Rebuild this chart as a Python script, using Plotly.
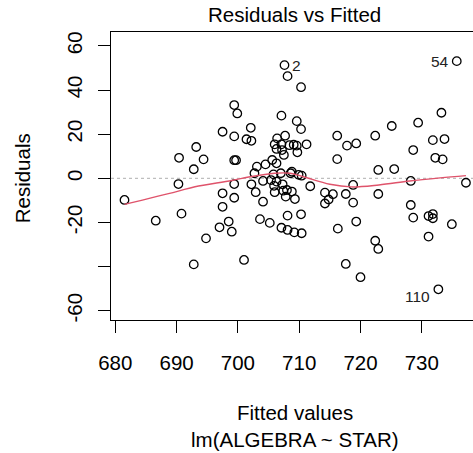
import plotly.graph_objects as go

# Fitted values and residuals
fitted = [681.5, 686.6, 690.3, 690.4, 690.8, 692.8, 692.8, 693.2, 694.4, 694.8,
          697.5, 697.5, 697.5, 697.0, 698.5, 699.0, 699.4, 699.9, 699.4, 699.4,
          699.7, 699.4, 699.4, 701.0, 701.4, 702.2, 702.1, 702.2, 702.7, 703.1,
          702.9, 703.6, 704.1, 704.1, 704.5, 705.2, 705.4, 705.6, 705.8, 705.9,
          706.0, 706.0, 706.3, 706.3, 706.3, 706.4, 707.1, 707.1, 707.2, 707.0,
          707.3, 707.4, 707.5, 707.6, 707.7, 707.8, 708.1, 708.1, 707.1, 708.1,
          708.4, 708.6, 708.8, 708.0, 708.8, 709.1, 709.6, 709.6, 709.7, 709.9,
          709.2, 709.3, 710.3, 710.3, 710.3, 710.4, 710.4, 711.2, 711.8, 714.2,
          715.5, 714.8, 714.2, 716.2, 716.2, 716.3, 717.8, 717.6, 717.6, 718.8,
          718.8, 719.3, 719.3, 720.0, 722.4, 722.9, 722.9, 722.4, 722.9, 725.1,
          725.5, 728.2, 728.2, 728.6, 728.6, 729.4, 731.1, 731.8, 731.8, 731.1,
          731.8, 732.2, 733.4, 733.2, 733.7, 734.9, 735.7, 737.2, 732.7]
resid = [-9.8, -19.2, -2.6, 9.3, -16.0, 4.1, -39.0, 14.2, 8.6, -27.2,
         21.1, -6.8, -12.9, -22.2, -19.6, -24.2, 33.2, 29.4, 19.0, 8.2,
         8.2, -2.6, -8.8, -37.0, 17.7, 17.0, 22.9, -2.7, 2.3, 5.3,
         -6.3, -18.5, -1.2, -10.6, 6.3, -20.2, -0.8, 8.3, 1.8, -3.4,
         -6.3, 15.4, 13.3, 6.8, -1.5, 18.1, 28.4, 15.4, 12.8, 2.3,
         -2.7, -5.6, 10.6, 51.3, 19.3, -8.3, 46.3, -16.9, -22.4, -23.4,
         15.0, 2.3, 3.0, -5.3, -6.0, 15.2, 25.9, 14.8, 11.8, 1.6,
         -24.5, -9.4, 41.3, 22.3, -16.3, 1.2, -24.9, 15.4, -3.6, -6.5,
         -7.2, -9.6, -11.4, 19.3, 8.7, -22.8, 14.8, -7.1, -38.8, -3.0,
         -11.0, 15.8, -19.6, -44.8, 19.3, 3.8, -7.1, -28.3, -32.0, 23.7,
         4.2, -1.2, -12.1, 12.8, -17.8, 25.2, -17.1, -16.2, -18.1, -26.4,
         17.3, 9.3, 8.6, 29.7, 17.8, -20.8, 53.1, -2.0, -50.3]

# Smoother curve
smooth_x = [681.5, 690.0, 693.0, 699.0, 702.0, 706.0, 708.5, 710.7, 715.0,
            718.5, 723.0, 728.0, 733.0, 737.2]
smooth_y = [-11.8, -6.0, -3.8, -1.0, 0.7, 2.3, 2.3, 0.7, -2.7,
            -3.9, -3.0, -1.2, 0.2, 1.2]

# Labelled observations
id_labels = ["2", "54", "110"]
id_x = [707.6, 735.7, 732.7]
id_y = [51.3, 53.1, -50.3]
id_side = ["right", "left", "left"]

x_ticks = [680, 690, 700, 710, 720, 730]
y_ticks = [60, 40, 20, 0, -20, -40, -60]
y_ticktext = ["60", "40", "20", "0", "-20", "", "-60"]

FONT = "Liberation Sans, Arial, sans-serif"
FS = 20.5

fig = go.Figure()
fig.add_trace(go.Scatter(x=[679.3, 738.4], y=[0, 0], mode="lines",
                         line=dict(color="#BEBEBE", width=1.2, dash="dot"),
                         hoverinfo="skip", showlegend=False))
fig.add_trace(go.Scatter(x=fitted, y=resid, mode="markers",
                         marker=dict(symbol="circle-open", size=8.5,
                                     color="black", line=dict(width=1.3, color="black")),
                         showlegend=False))
fig.add_trace(go.Scatter(x=smooth_x, y=smooth_y, mode="lines",
                         line=dict(color="#DF536B", width=1.4, shape="spline"),
                         showlegend=False))

annotations = []
for lab, lx, ly, side in zip(id_labels, id_x, id_y, id_side):
    annotations.append(dict(
        x=lx, y=ly, xref="x", yref="y", text=lab, showarrow=False,
        xanchor="left" if side == "right" else "right",
        xshift=6 if side == "right" else -6,
        yshift=-7 if lab == "110" else 0,
        font=dict(family=FONT, size=15.5, color="#222222")))

annotations += [
    dict(text="Residuals vs Fitted", xref="paper", yref="paper", x=0.508, y=1,
         yshift=18, xanchor="center", yanchor="middle", showarrow=False,
         font=dict(family=FONT, size=FS, color="black")),
    dict(text="Fitted values", xref="paper", yref="paper", x=0.508, y=0,
         yshift=-92, xanchor="center", yanchor="middle", showarrow=False,
         font=dict(family=FONT, size=FS, color="black")),
    dict(text="lm(ALGEBRA ~ STAR)", xref="paper", yref="paper", x=0.508, y=0,
         yshift=-119, xanchor="center", yanchor="middle", showarrow=False,
         font=dict(family=FONT, size=FS, color="black")),
    dict(text="Residuals", xref="paper", yref="paper", x=0, y=0.492,
         xshift=-89, xanchor="center", yanchor="middle", textangle=-90,
         showarrow=False, font=dict(family=FONT, size=FS, color="black")),
]

fig.update_layout(
    width=473, height=453,
    margin=dict(l=111, r=0, t=32, b=133, pad=0),
    paper_bgcolor="white", plot_bgcolor="white",
    annotations=annotations,
    xaxis=dict(range=[679.3, 738.35], tickvals=x_ticks,
               ticks="outside", ticklen=12, tickwidth=1, tickcolor="black",
               showline=True, linecolor="black", linewidth=1, mirror=True,
               showgrid=False, zeroline=False, ticklabelstandoff=12,
               tickfont=dict(family=FONT, size=FS, color="black")),
    yaxis=dict(range=[-64.2, 66.3], tickvals=y_ticks, ticktext=y_ticktext,
               ticks="outside", ticklen=12, tickwidth=1, tickcolor="black",
               showline=True, linecolor="black", linewidth=1, mirror=False,
               showgrid=False, zeroline=False, tickangle=-90, ticklabelstandoff=8,
               tickfont=dict(family=FONT, size=FS, color="black")),
)

fig.write_html("out.html")
